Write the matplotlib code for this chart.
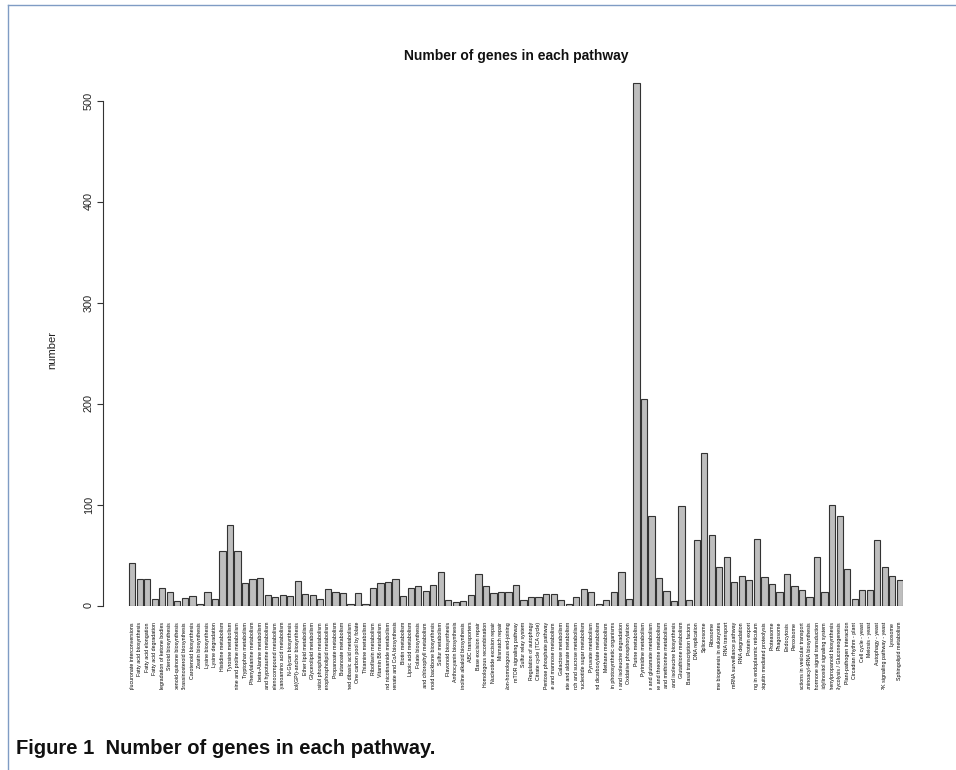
import matplotlib
matplotlib.use("Agg")
import matplotlib.pyplot as plt
from matplotlib.patches import Rectangle
from matplotlib.transforms import blended_transform_factory
from matplotlib.lines import Line2D

pathways = [
    "Pentose and glucuronate interconversions", "Fatty acid biosynthesis", "Fatty acid elongation",
    "Fatty acid degradation", "Synthesis and degradation of ketone bodies", "Steroid biosynthesis",
    "Ubiquinone and other terpenoid-quinone biosynthesis", "Brassinosteroid biosynthesis",
    "Carotenoid biosynthesis", "Zeatin biosynthesis", "Lysine biosynthesis", "Lysine degradation",
    "Histidine metabolism", "Tyrosine metabolism", "Arginine and proline metabolism",
    "Tryptophan metabolism", "Phenylalanine metabolism", "beta-Alanine metabolism",
    "Taurine and hypotaurine metabolism", "Selenocompound metabolism", "Cyanoamino acid metabolism",
    "N-Glycan biosynthesis", "Glycosylphosphatidylinositol(GPI)-anchor biosynthesis",
    "Ether lipid metabolism", "Glycerolipid metabolism", "Inositol phosphate metabolism",
    "Glycerophospholipid metabolism", "Propanoate metabolism", "Butanoate metabolism",
    "C5-Branched dibasic acid metabolism", "One carbon pool by folate", "Thiamine metabolism",
    "Riboflavin metabolism", "Vitamin B6 metabolism", "Nicotinate and nicotinamide metabolism",
    "Pantothenate and CoA biosynthesis", "Biotin metabolism", "Lipoic acid metabolism",
    "Folate biosynthesis", "Porphyrin and chlorophyll metabolism", "Terpenoid backbone biosynthesis",
    "Sulfur metabolism", "Flavonoid biosynthesis", "Anthocyanin biosynthesis",
    "Isoquinoline alkaloid biosynthesis", "ABC transporters", "Base excision repair",
    "Homologous recombination", "Nucleotide excision repair", "Mismatch repair",
    "Non-homologous end-joining", "mTOR signaling pathway", "Sulfur relay system",
    "Regulation of autophagy", "Citrate cycle (TCA cycle)", "Pentose phosphate pathway",
    "Fructose and mannose metabolism", "Galactose metabolism", "Ascorbate and aldarate metabolism",
    "Starch and sucrose metabolism", "Amino sugar and nucleotide sugar metabolism",
    "Pyruvate metabolism", "Glyoxylate and dicarboxylate metabolism", "Methane metabolism",
    "Carbon fixation in photosynthetic organisms", "Valine, leucine and isoleucine degradation",
    "Oxidative phosphorylation", "Purine metabolism", "Pyrimidine metabolism",
    "Alanine, aspartate and glutamate metabolism", "Glycine, serine and threonine metabolism",
    "Cysteine and methionine metabolism", "Valine, leucine and isoleucine biosynthesis",
    "Glutathione metabolism", "Basal transcription factors", "DNA replication", "Spliceosome",
    "Ribosome", "Ribosome biogenesis in eukaryotes", "RNA transport", "mRNA surveillance pathway",
    "RNA degradation", "Protein export", "Protein processing in endoplasmic reticulum",
    "Ubiquitin mediated proteolysis", "Proteasome", "Phagosome", "Endocytosis", "Peroxisome",
    "SNARE interactions in vesicular transport", "Aminoacyl-tRNA biosynthesis",
    "Plant hormone signal transduction", "Phosphatidylinositol signaling system",
    "Phenylpropanoid biosynthesis", "Glycolysis / Gluconeogenesis", "Plant-pathogen interaction",
    "Circadian rhythm - plant", "Cell cycle - yeast", "Meiosis - yeast", "Autophagy - yeast",
    "MAPK signaling pathway - yeast", "Lysosome", "Sphingolipid metabolism",
]

gene_counts = [
    42, 26, 26, 6, 17, 13, 4, 7, 9, 1,
    13, 6, 54, 80, 54, 22, 26, 27, 10, 8,
    10, 9, 24, 11, 10, 6, 16, 13, 12, 1,
    12, 1, 17, 22, 23, 26, 9, 17, 19, 14,
    20, 33, 5, 3, 4, 10, 31, 19, 12, 13,
    13, 20, 5, 8, 8, 11, 11, 5, 1, 8,
    16, 13, 1, 5, 13, 33, 6, 517, 204, 89,
    27, 14, 4, 99, 5, 65, 151, 70, 38, 48,
    23, 29, 25, 66, 28, 21, 13, 31, 19, 15,
    8, 48, 13, 100, 89, 36, 6, 15, 15, 65,
    38, 29, 25,
]

y_ticks = [0, 100, 200, 300, 400, 500]

W, H = 956, 770
fig = plt.figure(figsize=(W / 100, H / 100), dpi=100)
fig.patch.set_facecolor("white")

def fx(px):
    return px / W

def fy(py):
    return (H - py) / H

ax_left, ax_right, ax_bottom, ax_top = 103, 903, 605.5, 70
ax = fig.add_axes([fx(ax_left), fy(ax_bottom), fx(ax_right - ax_left), (ax_bottom - ax_top) / H])

centers = [0.7 + 1.2 * i for i in range(len(gene_counts))]
ax.bar(centers, gene_counts, width=1.0, color="#bebebe", edgecolor="#333333", linewidth=0.8)

ax.set_xlim(-3.95, 123.6)
ax.set_ylim(0, (ax_bottom - ax_top) / 1.01)
for s in ["top", "right", "bottom"]:
    ax.spines[s].set_visible(False)
ax.spines["left"].set_bounds(0, 500)
ax.spines["left"].set_color("#333333")
ax.spines["left"].set_linewidth(0.8)
ax.set_xticks([])
ax.set_yticks(y_ticks)
ax.set_yticklabels([str(t) for t in y_ticks], rotation=90, va="center",
                   fontsize=7.8, family="Liberation Sans", color="#222222")
ax.tick_params(axis="y", length=4.5, width=0.8, color="#333333", pad=2)

fig.text(fx(516), fy(56), "Number of genes in each pathway", ha="center", va="center",
         fontsize=10, fontweight="bold", family="Liberation Sans", color="#111111")

fig.text(fx(52), fy(350), "number", rotation=90, ha="center", va="center",
         fontsize=8, family="Liberation Sans", color="#222222")

clip_rect = Rectangle((0, fy(690)), 1, 1 - fy(690), transform=fig.transFigure,
                      facecolor="none", edgecolor="none")
trans = blended_transform_factory(ax.transData, fig.transFigure)
for c, name in zip(centers, pathways):
    t = ax.text(c, fy(622), name, rotation=90, ha="center", va="top",
                fontsize=3.8, family="Liberation Sans", color="#000000",
                transform=trans, clip_on=True)
    t.set_clip_path(clip_rect)

# page frame
fig.add_artist(Line2D([fx(8), 1], [fy(5), fy(5)], transform=fig.transFigure,
                      color="#7f9cc4", linewidth=1.0))
fig.add_artist(Line2D([fx(8), fx(8)], [fy(5), 0], transform=fig.transFigure,
                      color="#7f9cc4", linewidth=1.0))

fig.text(fx(16), fy(748), "Figure 1  Number of genes in each pathway.", ha="left", va="center",
         fontsize=14.5, fontweight="bold", family="Liberation Sans", color="#111111")

fig.savefig("out.png", dpi=100, facecolor="white")
